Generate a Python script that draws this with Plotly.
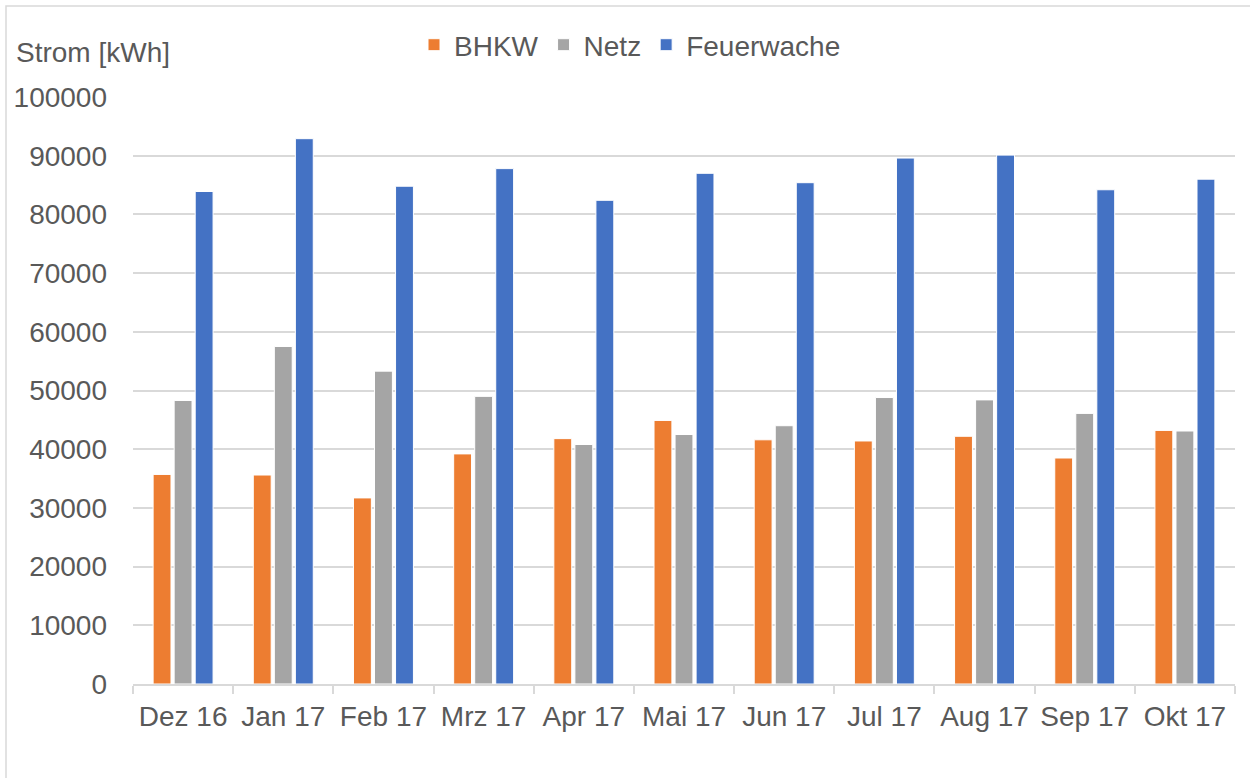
import plotly.graph_objects as go

months = ["Dez 16", "Jan 17", "Feb 17", "Mrz 17", "Apr 17", "Mai 17",
          "Jun 17", "Jul 17", "Aug 17", "Sep 17", "Okt 17"]
bhkw = [35700, 35600, 31700, 39200, 41800, 44900, 41600, 41400, 42200, 38500, 43200]
netz = [48300, 57500, 53300, 49000, 40800, 42500, 44000, 48800, 48400, 46100, 43100]
feuerwache = [83900, 92900, 84800, 87800, 82400, 87000, 85400, 89600, 90100, 84200, 86000]
y_ticks = [0, 10000, 20000, 30000, 40000, 50000, 60000, 70000, 80000, 90000, 100000]

FONT = "Liberation Sans, Arial, sans-serif"
TXT = "#595959"
FS = 28

fig = go.Figure()
for name, vals, col in [("BHKW", bhkw, "#ED7D31"), ("Netz", netz, "#A5A5A5"),
                        ("Feuerwache", feuerwache, "#4472C4")]:
    fig.add_trace(go.Bar(x=months, y=vals, name=name,
                         marker=dict(color=col, line=dict(color="white", width=1))))

W, H = 1250, 778
L, R, T, B = 133, 15, 97, 94
pw = W - L - R
ph = H - T - B

fig.update_layout(
    width=W, height=H,
    margin=dict(l=L, r=R, t=T, b=B),
    paper_bgcolor="white", plot_bgcolor="white",
    barmode="group", bargap=0.37, bargroupgap=0.15,
    font=dict(family=FONT, size=FS, color=TXT),
    showlegend=True,
    legend=dict(orientation="h", xref="container", yref="container",
                x=0.504, xanchor="center", y=1 - 45 / H, yanchor="middle",
                font=dict(family=FONT, size=FS, color=TXT),
                itemwidth=30, traceorder="normal"),
    xaxis=dict(type="category", showgrid=False, showline=True, linecolor="#D9D9D9",
               linewidth=1.5, ticks="outside", tickson="boundaries", ticklen=8,
               tickcolor="#D9D9D9", tickwidth=1.5, ticklabelstandoff=7,
               tickfont=dict(family=FONT, size=FS, color=TXT)),
    yaxis=dict(range=[0, 100000], tickvals=y_ticks, ticktext=[str(v) for v in y_ticks],
               showgrid=True, gridcolor="#D9D9D9", gridwidth=1.5, zeroline=False,
               showline=False, ticks="", ticklabelstandoff=25,
               tickfont=dict(family=FONT, size=FS, color=TXT)),
    annotations=[dict(text="Strom [kWh]", xref="paper", yref="paper",
                      x=(14 - L) / pw, y=(H - B - 52) / ph, xanchor="left", yanchor="middle",
                      showarrow=False, font=dict(family=FONT, size=FS, color=TXT))],
    shapes=[dict(type="rect", xref="paper", yref="paper",
                 x0=(6 - L) / pw, x1=(W + 20 - L) / pw,
                 y0=(H - B - (H + 20)) / ph, y1=(H - B - 6) / ph,
                 line=dict(color="#D9D9D9", width=1.5), fillcolor="rgba(0,0,0,0)",
                 layer="below")],
)

fig.write_html("out.html", config={"displayModeBar": False},
               post_script="document.body.style.margin='0';")
